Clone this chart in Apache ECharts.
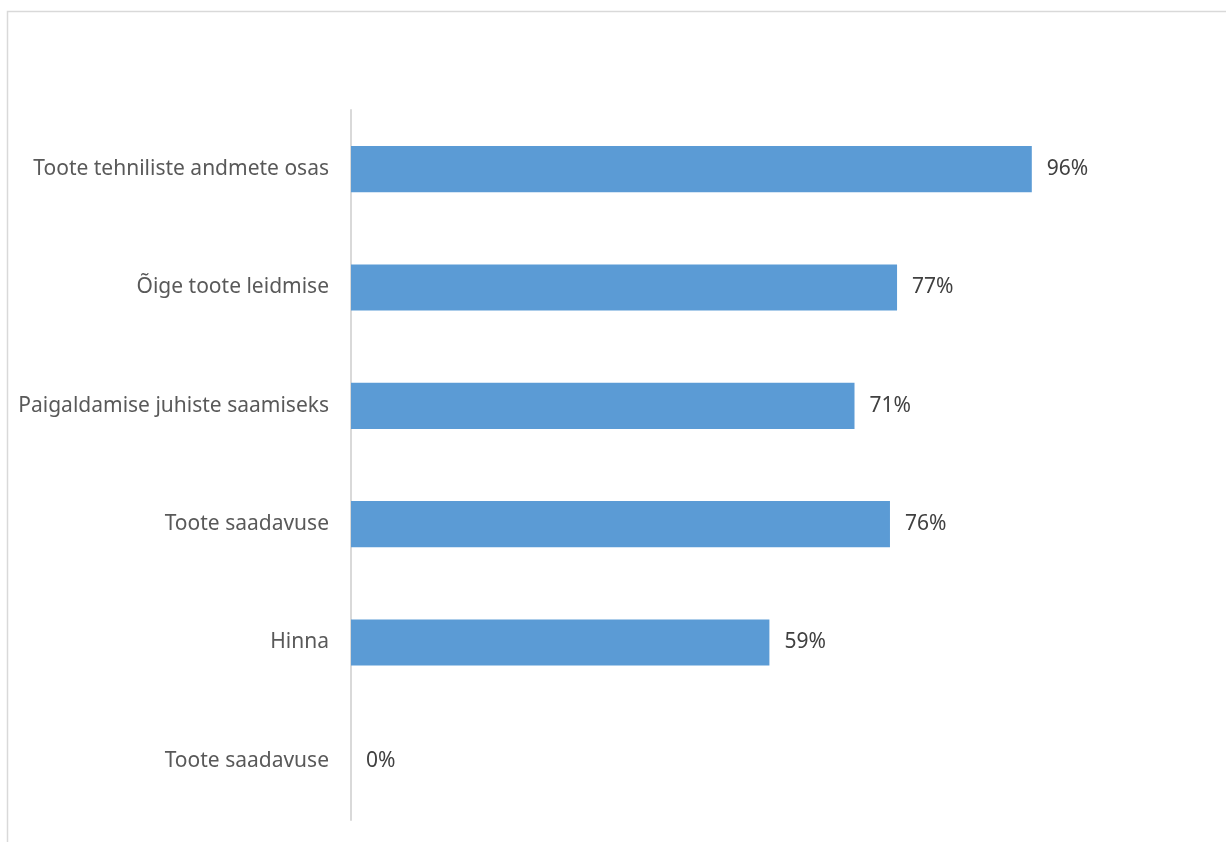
<!DOCTYPE html>
<html>
<head>
<meta charset="utf-8">
<script src="https://cdn.jsdelivr.net/npm/echarts@6/dist/echarts.min.js"></script>
<style>
html,body{margin:0;padding:0;background:#fff;}
#chart{width:1226px;height:842px;}
</style>
</head>
<body>
<div id="chart"></div>
<script>
const categories = [
  "Toote tehniliste andmete osas",
  "Õige toote leidmise",
  "Paigaldamise juhiste saamiseks",
  "Toote saadavuse",
  "Hinna",
  "Toote saadavuse "
];
const values = [96, 77, 71, 76, 59, 0];

const chart = echarts.init(document.getElementById('chart'));
chart.setOption({
  animation: false,
  backgroundColor: '#ffffff',
  graphic: [
    { type: 'polyline', shape: { points: [[7.5, 842], [7.5, 11.5], [1226, 11.5]] },
      style: { stroke: '#d9d9d9', lineWidth: 1.5, fill: null } }
  ],
  grid: { left: 351, top: 110, right: 24, bottom: 22, containLabel: false },
  xAxis: {
    type: 'value', min: 0, max: 120, show: false,
    splitLine: { show: false }
  },
  yAxis: {
    type: 'category', data: categories, inverse: true,
    axisLine: { show: true, lineStyle: { color: '#d9d9d9', width: 2 } },
    axisTick: { show: false },
    axisLabel: { color: '#595959', fontSize: 21, fontFamily: 'Noto Sans', margin: 22,
      formatter: v => v.trim() }
  },
  series: [{
    type: 'bar',
    data: values,
    barCategoryGap: '61%',
    itemStyle: { color: '#5b9bd5' },
    label: {
      show: true, position: 'right', distance: 15,
      color: '#404040', fontSize: 21, fontFamily: 'Noto Sans',
      formatter: p => p.value + '%'
    }
  }]
});
</script>
</body>
</html>
